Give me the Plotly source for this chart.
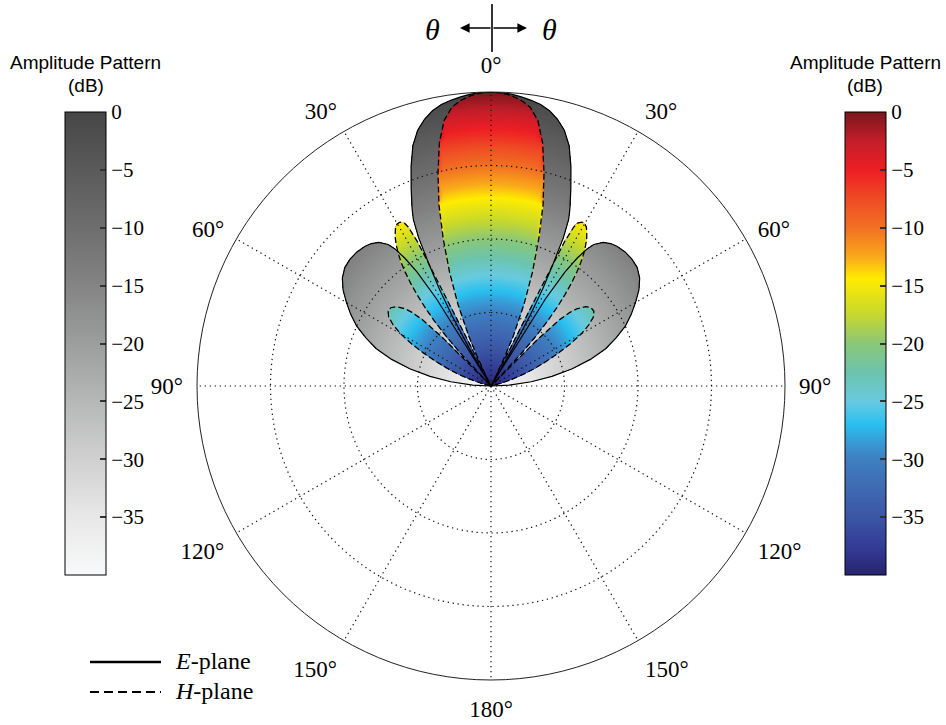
import plotly.graph_objects as go
from plotly.colors import sample_colorscale

W, H = 946, 725

# ---------------- data (half patterns, symmetric about 0 deg) ----------------
# E-plane (gray, solid outline): theta in degrees, amplitude in dB
e_theta = [0, 2, 4, 6, 8, 10, 12, 14, 16, 18, 20, 22, 24, 25, 26, 27, 28, 29, 30, 31,
           32, 33, 34, 35, 36, 38, 40, 42, 45, 48, 51, 54, 57, 60, 63, 66, 69, 72,
           75, 78, 81, 84, 87, 90]
e_db = [0, -0.05, -0.2, -0.45, -0.75, -1.1, -1.7, -2.6, -3.8, -5.6, -8.2, -11, -13.6,
        -15, -17.5, -21.5, -25, -29, -34, -40,
        -26, -21.5, -19, -17.3, -16.2, -15.2, -14.7, -14.4, -14.2, -14.2, -14.4, -15,
        -16, -17.3, -18.6, -20, -21.8, -23.6, -26, -28.7, -31.6, -34.5, -37.5, -40]

# H-plane (coloured, dashed outline)
h_theta = [0, 2, 4, 6, 8, 10, 12, 14, 16, 18, 20, 22, 24, 25, 26, 26.5, 27, 27.5, 28,
           29, 30, 31, 32, 33, 34, 35, 36, 37, 38, 39, 40, 41, 42, 43, 44, 45, 46, 47,
           48, 50, 52, 54, 56, 58, 60, 62, 64, 66, 68, 70, 72, 74, 76, 80, 85, 90]
h_db = [0, -0.1, -0.4, -0.9, -1.7, -3.3, -6.2, -10.2, -14.3, -19, -23.5, -28, -32.5,
        -35.5, -38.5, -40, -18, -15.6, -14.9, -14.5, -14.5, -14.8, -15.4, -16.1, -17.0, -18.0,
        -19.2, -20.6, -22.2, -24, -26, -28.2, -30.8, -34, -40, -31, -27, -25.3, -24.3,
        -23.2, -22.7, -22.7, -23.2, -24.3, -25.8, -27.8, -29.8, -31.8, -33.6, -35.2, -36.8,
        -38.5, -40, -40, -40, -40]

cb_ticks = [0, -5, -10, -15, -20, -25, -30, -35]
cb_labels = ['0', '\u22125', '\u221210', '\u221215', '\u221220', '\u221225', '\u221230', '\u221235']
ang_ticks = list(range(0, 360, 30))
ang_labels = ['0°', '30°', '60°', '90°', '120°', '150°', '180°', '150°', '120°', '90°', '60°', '30°']
rings = [-30, -20, -10]
r_min, r_max = -40, 0

jet_scale = [
    [0.0, 'rgb(40,36,110)'], [0.05, 'rgb(50,55,145)'], [0.125, 'rgb(59,86,165)'],
    [0.1875, 'rgb(63,106,178)'], [0.25, 'rgb(62,127,193)'], [0.2875, 'rgb(56,155,214)'],
    [0.325, 'rgb(41,192,240)'], [0.375, 'rgb(104,202,224)'], [0.4375, 'rgb(108,196,172)'],
    [0.5, 'rgb(138,199,120)'], [0.5625, 'rgb(198,216,46)'], [0.64, 'rgb(255,236,0)'],
    [0.6875, 'rgb(249,168,27)'], [0.75, 'rgb(242,112,34)'], [0.8125, 'rgb(239,75,37)'],
    [0.875, 'rgb(237,30,36)'], [0.9375, 'rgb(195,30,42)'], [1.0, 'rgb(122,22,28)']]
gray_scale = [
    [0.0, 'rgb(248,249,250)'], [0.125, 'rgb(232,232,232)'], [0.25, 'rgb(208,208,208)'],
    [0.375, 'rgb(182,183,183)'], [0.5, 'rgb(156,158,158)'], [0.625, 'rgb(132,132,132)'],
    [0.75, 'rgb(110,110,110)'], [0.875, 'rgb(90,90,90)'], [1.0, 'rgb(70,70,70)']]


def mirror(theta, vals):
    t = [-x for x in theta[:0:-1]] + list(theta)
    v = list(vals[:0:-1]) + list(vals)
    return t, v


e_t, e_v = mirror(e_theta, e_db)
h_t, h_v = mirror(h_theta, h_db)

fig = go.Figure()


def add_gradient(theta, vals, scale, step):
    n = int(round((r_max - r_min) / step))
    for i in range(n):
        level = r_max - i * step
        r = [min(v, level) for v in vals]
        col = sample_colorscale(scale, [(level - step / 2 - r_min) / (r_max - r_min)])[0]
        fig.add_trace(go.Scatterpolar(r=r, theta=theta, mode='lines', fill='toself',
                                      fillcolor=col, line=dict(width=0),
                                      hoverinfo='skip', showlegend=False))


add_gradient(e_t, e_v, gray_scale, 0.25)
add_gradient(h_t, h_v, jet_scale, 0.25)

# dotted grid drawn above the fills
grid_line = dict(color='#111', width=1.2, dash='1.3px,3.7px')
spoke_r, spoke_t = [], []
for a in ang_ticks:
    spoke_r += [r_min, r_max, None]
    spoke_t += [a, a, None]
fig.add_trace(go.Scatterpolar(r=spoke_r, theta=spoke_t, mode='lines', line=grid_line,
                              hoverinfo='skip', showlegend=False))
for rv in rings:
    th = list(range(0, 361, 1))
    fig.add_trace(go.Scatterpolar(r=[rv] * len(th), theta=th, mode='lines', line=grid_line,
                                  hoverinfo='skip', showlegend=False))

# outlines
fig.add_trace(go.Scatterpolar(r=e_v, theta=e_t, mode='lines', name='E-plane',
                              line=dict(color='black', width=1.2), showlegend=False))
fig.add_trace(go.Scatterpolar(r=h_v, theta=h_t, mode='lines', name='H-plane',
                              line=dict(color='black', width=1.3, dash='6px,3px'),
                              showlegend=False))


def cbar(x_px):
    return dict(x=x_px / W, xanchor='left', y=1 - 112 / H, yanchor='top',
                len=463, lenmode='pixels', thickness=41, thicknessmode='pixels',
                xpad=0, ypad=0, outlinewidth=1, outlinecolor='black',
                ticks='inside', ticklen=6, tickwidth=1.5, tickcolor='#333',
                tickvals=cb_ticks, ticktext=cb_labels,
                tickfont=dict(family='Liberation Serif', size=21, color='black'))


fig.add_trace(go.Scatterpolar(r=[r_min], theta=[0], mode='markers', hoverinfo='skip',
                              showlegend=False,
                              marker=dict(size=1, opacity=0, color=[r_min], cmin=r_min,
                                          cmax=r_max, colorscale=gray_scale,
                                          showscale=True, colorbar=cbar(65))))
fig.add_trace(go.Scatterpolar(r=[r_min], theta=[0], mode='markers', hoverinfo='skip',
                              showlegend=False,
                              marker=dict(size=1, opacity=0, color=[r_min], cmin=r_min,
                                          cmax=r_max, colorscale=jet_scale,
                                          showscale=True, colorbar=cbar(845))))

serif = 'Liberation Serif'
sans = 'Liberation Sans'


def px(x):
    return x / W


def py(y):
    return 1 - y / H


annotations = []
for cx in (85.5, 865):
    annotations.append(dict(x=px(cx), y=py(62), xref='paper', yref='paper', text='Amplitude Pattern',
                            showarrow=False, font=dict(family=sans, size=19, color='black'),
                            xanchor='center', yanchor='middle'))
    annotations.append(dict(x=px(cx), y=py(85), xref='paper', yref='paper', text='(dB)',
                            showarrow=False, font=dict(family=sans, size=19, color='black'),
                            xanchor='center', yanchor='middle'))
# theta indicator
for tx in (432, 549):
    annotations.append(dict(x=px(tx), y=py(29), xref='paper', yref='paper', text='<i>θ</i>',
                            showarrow=False, font=dict(family=serif, size=30, color='black'),
                            xanchor='center', yanchor='middle'))
annotations.append(dict(x=px(460), y=py(28), xref='paper', yref='paper', text='', showarrow=True,
                        ax=32, ay=0, arrowhead=2, arrowsize=1.2, arrowwidth=1.6, arrowcolor='black'))
annotations.append(dict(x=px(527), y=py(28), xref='paper', yref='paper', text='', showarrow=True,
                        ax=-35, ay=0, arrowhead=2, arrowsize=1.2, arrowwidth=1.6, arrowcolor='black'))
# legend text
annotations.append(dict(x=px(173), y=py(661), xref='paper', yref='paper', text='<i>E</i>-plane',
                        showarrow=False, font=dict(family=serif, size=24, color='black'),
                        xanchor='left', yanchor='middle'))
annotations.append(dict(x=px(173), y=py(691), xref='paper', yref='paper', text='<i>H</i>-plane',
                        showarrow=False, font=dict(family=serif, size=24, color='black'),
                        xanchor='left', yanchor='middle'))

shapes = [
    dict(type='line', xref='paper', yref='paper', x0=px(492), x1=px(492), y0=py(4), y1=py(52),
         line=dict(color='black', width=1.6)),
    dict(type='line', xref='paper', yref='paper', x0=px(90), x1=px(161), y0=py(662), y1=py(662),
         line=dict(color='black', width=2.5)),
    dict(type='line', xref='paper', yref='paper', x0=px(90), x1=px(161), y0=py(692), y1=py(692),
         line=dict(color='black', width=2, dash='9px,5px')),
]

fig.update_layout(
    width=W, height=H, autosize=False,
    margin=dict(l=0, r=0, t=0, b=0, pad=0, autoexpand=False),
    paper_bgcolor='white', showlegend=False,
    annotations=annotations, shapes=shapes,
    polar=dict(
        domain=dict(x=[197 / W, 785 / W], y=[1 - 680 / H, 1 - 92 / H]),
        bgcolor='white',
        angularaxis=dict(rotation=90, direction='clockwise', tickmode='array',
                         tickvals=ang_ticks, ticktext=ang_labels, ticks='outside',
                         ticklen=9, tickcolor='rgba(0,0,0,0)',
                         showgrid=False, showline=True, linecolor='#222', linewidth=1,
                         tickfont=dict(family=serif, size=23, color='black')),
        radialaxis=dict(range=[r_min, r_max], visible=False, showgrid=False),
    ),
)

fig.write_html('out.html', config={'displayModeBar': False},
               post_script="document.body.style.margin='0';")
